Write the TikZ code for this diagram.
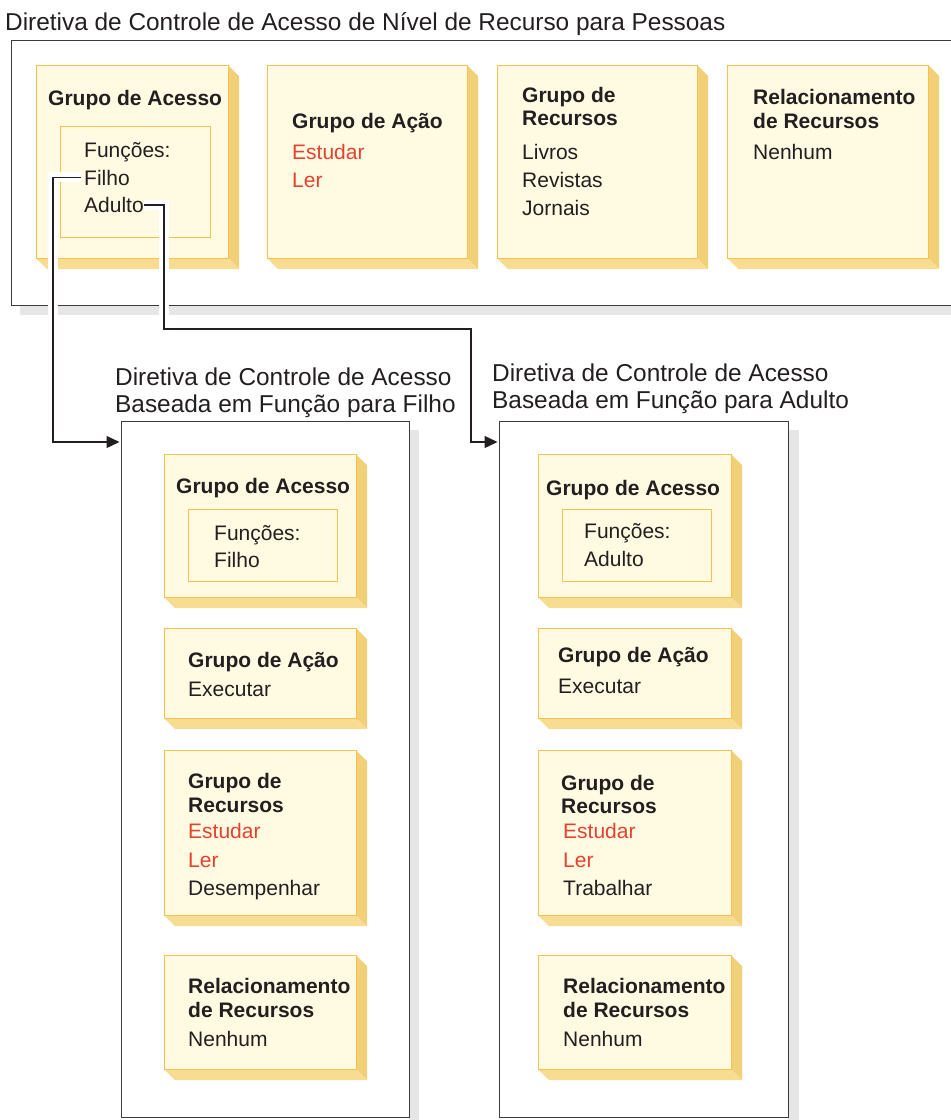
\documentclass[tikz,border=0pt]{standalone}
\usepackage{fontspec}
\setmainfont{Liberation Sans}
\usetikzlibrary{arrows.meta}

\definecolor{face}{HTML}{FFFBE3}
\definecolor{edge}{HTML}{F7C04F}
\definecolor{sideR}{HTML}{F2D078}
\definecolor{sideB}{HTML}{F7DC92}
\definecolor{frame}{HTML}{3C3C3C}
\definecolor{dropgray}{HTML}{E5E6E5}
\definecolor{ink}{HTML}{231F20}
\definecolor{hot}{HTML}{E5412F}

\tikzset{
  titletext/.style={anchor=base west, inner sep=0pt, font=\fontsize{24.4}{28}\selectfont, text=ink},
  headtext/.style={anchor=base west, inner sep=0pt, font=\fontsize{21}{24}\selectfont\bfseries, text=ink},
  itemtext/.style={anchor=base west, inner sep=0pt, font=\fontsize{21}{28}\selectfont, text=ink},
  hottext/.style={itemtext, text=hot},
  policy/.style={draw=frame, line width=1.4pt, inner sep=0pt, anchor=north west},
  cardface/.style={draw=edge, fill=face, line width=1.3pt, inner sep=0pt},
  rolebox/.style={draw=edge, fill=face, line width=1.3pt, inner sep=0pt, anchor=north west},
  conn/.style={draw=ink, line width=1.3pt},
  halo/.style={draw=white, line width=10pt},
  tip/.style={-{Triangle[length=13pt,width=12pt]}, shorten >=1.5pt},
}

% 3D card: name, x1, y1, x2, y2 (front face), depth 11
\newcommand\slab[5]{%
  \fill[sideR] (#4,#3) -- (#4+11,#3+11) -- (#4+11,#5+11) -- (#4,#5) -- cycle;
  \fill[sideB] (#2,#5) -- (#4,#5) -- (#4+11,#5+11) -- (#2+11,#5+11) -- cycle;
  \node[cardface, anchor=north west, minimum width={(#4-#2)*1pt}, minimum height={(#5-#3)*1pt}] (#1) at (#2,#3) {};
}

\begin{document}
\begin{tikzpicture}[x=1pt, y=-1pt]
\useasboundingbox (0,0) rectangle (951,1120);
\clip (0,0) rectangle (951,1120);

% drop shadows of the policy frames
\fill[dropgray] (20,305) rectangle (960,315);
\fill[dropgray] (409,430) rectangle (419,1125);
\fill[dropgray] (788,430) rectangle (799,1125);

% policy frames
\node[policy, minimum width=960pt, minimum height=265pt] (polP) at (11,40) {};
\node[policy, minimum width=288pt, minimum height=696pt] (polF) at (121,421) {};
\node[policy, minimum width=289pt, minimum height=696pt] (polA) at (499,421) {};

% titles
\node[titletext] (tP) at (5,30) {Diretiva de Controle de Acesso de Nível de Recurso para Pessoas};
\node[titletext] (tF1) at (115,385) {Diretiva de Controle de Acesso};
\node[titletext] (tF2) at (115,412) {Baseada em Função para Filho};
\node[titletext] (tA1) at (492,381) {Diretiva de Controle de Acesso};
\node[titletext] (tA2) at (492,408) {Baseada em Função para Adulto};

% resource level policy cards
\slab{pAcc}{36}{65}{228}{258}
\slab{pAct}{267}{65}{467}{258}
\slab{pRes}{497}{65}{697}{258}
\slab{pRel}{727}{65}{928}{258}
\node[rolebox, minimum width=150pt, minimum height=111pt] (pRoles) at (60,126) {};

% role based policy cards (Filho)
\slab{fAcc}{164}{454}{356}{597}
\node[rolebox, minimum width=149pt, minimum height=72pt] (fRoles) at (188,509) {};
\slab{fAct}{164}{628}{356}{718}
\slab{fRes}{164}{750}{356}{915}
\slab{fRel}{164}{955}{356}{1069}

% role based policy cards (Adulto)
\slab{aAcc}{538}{454}{731}{597}
\node[rolebox, minimum width=149pt, minimum height=72pt] (aRoles) at (562,509) {};
\slab{aAct}{538}{628}{731}{718}
\slab{aRes}{538}{750}{731}{915}
\slab{aRel}{538}{955}{731}{1069}

% card texts, resource level policy
\node[headtext] (pAccH) at (48,105) {Grupo de Acesso};
\node[itemtext] (pFun) at (84,157.5) {Funções:};
\node[itemtext] (filho) at (84,185) {Filho};
\node[itemtext] (adulto) at (84,212.5) {Adulto};

\node[headtext] (pActH) at (292,128) {Grupo de Ação};
\node[hottext] (pActE) at (292,159) {Estudar};
\node[hottext] (pActL) at (292,187) {Ler};

\node[headtext] (pResH1) at (522,102) {Grupo de};
\node[headtext] (pResH2) at (522,125) {Recursos};
\node[itemtext] (pResA) at (522,159) {Livros};
\node[itemtext] (pResB) at (522,187) {Revistas};
\node[itemtext] (pResC) at (522,215) {Jornais};

\node[headtext] (pRelH1) at (753,104) {Relacionamento};
\node[headtext] (pRelH2) at (753,128) {de Recursos};
\node[itemtext] (pRelN) at (753,159) {Nenhum};

% card texts, Filho
\node[headtext] (fAccH) at (176,493) {Grupo de Acesso};
\node[itemtext] (fFun) at (214,540) {Funções:};
\node[itemtext] (fFil) at (214,567) {Filho};

\node[headtext] (fActH) at (188,667) {Grupo de Ação};
\node[itemtext] (fActX) at (188,696) {Executar};

\node[headtext] (fResH1) at (188,788) {Grupo de};
\node[headtext] (fResH2) at (188,812) {Recursos};
\node[hottext] (fResE) at (188,838) {Estudar};
\node[hottext] (fResL) at (188,867) {Ler};
\node[itemtext] (fResD) at (188,895) {Desempenhar};

\node[headtext] (fRelH1) at (188,993) {Relacionamento};
\node[headtext] (fRelH2) at (188,1017) {de Recursos};
\node[itemtext] (fRelN) at (188,1046) {Nenhum};

% card texts, Adulto
\node[headtext] (aAccH) at (546,495) {Grupo de Acesso};
\node[itemtext] (aFun) at (584,538) {Funções:};
\node[itemtext] (aAdu) at (584,566) {Adulto};

\node[headtext] (aActH) at (558,662) {Grupo de Ação};
\node[itemtext] (aActX) at (558,693) {Executar};

\node[headtext] (aResH1) at (561,790) {Grupo de};
\node[headtext] (aResH2) at (561,813) {Recursos};
\node[hottext] (aResE) at (563,838) {Estudar};
\node[hottext] (aResL) at (563,867) {Ler};
\node[itemtext] (aResT) at (563,895) {Trabalhar};

\node[headtext] (aRelH1) at (563,993) {Relacionamento};
\node[headtext] (aRelH2) at (563,1017) {de Recursos};
\node[itemtext] (aRelN) at (563,1046) {Nenhum};

% connectors from the roles to their policies
\coordinate (jf) at (53,442);
\coordinate (ka) at (164,329);
\coordinate (kb) at (471,442);

\draw[halo] ([xshift=-3pt]filho.west) -| (jf) -- ([xshift=-6pt]polF.west |- jf);
\draw[halo] (adulto.east) -| (ka) -| (kb) -- ([xshift=-6pt]polA.west |- kb);

\draw[conn, tip] ([xshift=-3pt]filho.west) -| (jf) -- (polF.west |- jf);
\draw[conn, tip] (adulto.east) -| (ka) -| (kb) -- (polA.west |- kb);

\end{tikzpicture}
\end{document}
